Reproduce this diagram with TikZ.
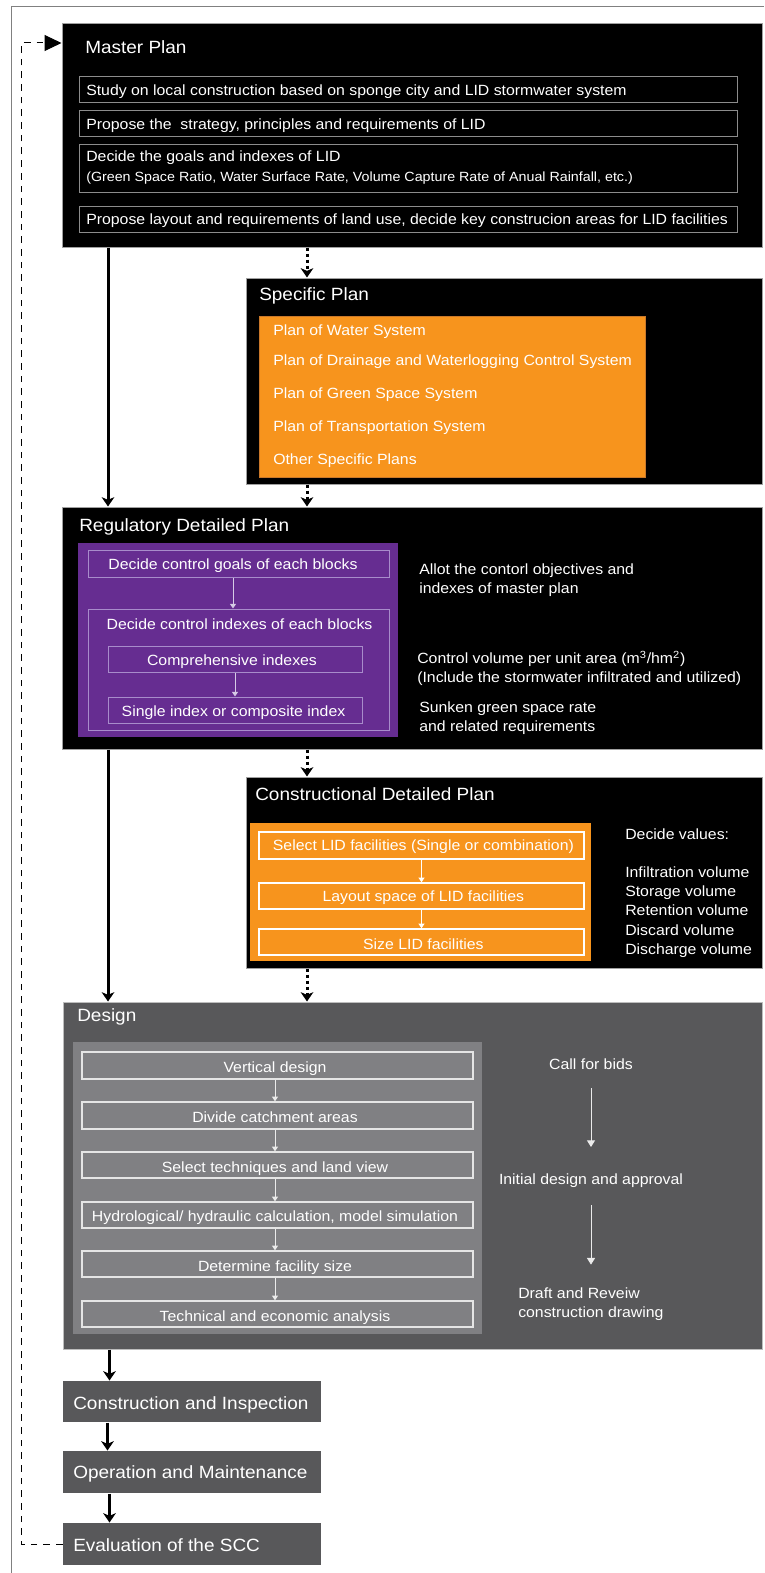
\documentclass[tikz,border=0pt]{standalone}
\usepackage{fontspec}
\setmainfont[FakeStretch=1.07]{Liberation Sans}
\usetikzlibrary{arrows.meta,fit}

\definecolor{frameGray}{HTML}{808080}
\definecolor{edgeGray}{HTML}{A0A0A0}
\definecolor{rowGray}{HTML}{8C8C8C}
\definecolor{lidOrange}{HTML}{F7941D}
\definecolor{orangeEdge}{HTML}{C9782A}
\definecolor{lidPurple}{HTML}{662D91}
\definecolor{lidLav}{HTML}{A88CCB}
\definecolor{lavArrow}{HTML}{D6CBE6}
\definecolor{darkPanel}{HTML}{58585A}
\definecolor{midPanel}{HTML}{808083}
\definecolor{rimGray}{HTML}{BDBDBD}

\tikzset{
  region/.style={fit={#1}, inner sep=0pt, line width=0.75pt},
  stage/.style={region={#1}, fill=black, draw=edgeGray},
  rowbox/.style={region={#1}, draw=rowGray},
  lavbox/.style={region={#1}, draw=lidLav},
  whitebox/.style={region={#1}, draw=white, line width=1.1pt},
  greybox/.style={region={#1}, draw=white!90!black, line width=1.1pt},
  ttl/.style={text=white, font=\fontsize{13.3}{16}\selectfont, inner sep=0pt, anchor=base west},
  txt/.style={text=white, font=\fontsize{11.1}{13}\selectfont, inner sep=0pt, anchor=base west},
  txtc/.style={txt, anchor=base},
  smalltxt/.style={txt, font=\fontsize{10}{12}\selectfont},
  bigtxt/.style={ttl},
  mainflow/.style={line width=2.25pt, -{Stealth[length=7pt,width=9.5pt,inset=2pt]}},
  dotflow/.style={mainflow, dash pattern=on 2.25pt off 2.25pt},
  thinflow/.style={draw=#1, line width=0.75pt, -{Triangle[length=3.5pt,width=4.5pt]}},
  longflow/.style={draw=white!92!black, line width=0.75pt, -{Triangle[length=5pt,width=6pt]}},
  feedback/.style={line width=0.75pt, dash pattern=on 5pt off 4.5pt, -{Triangle[length=12.75pt,width=12pt]}},
}

\begin{document}
\begin{tikzpicture}[x=0.75pt, y=-0.75pt]
\useasboundingbox (0,0) rectangle (764,1573);

% page frame (top and left)
\draw[frameGray, line width=0.75pt] (764,7) -- (11,7) -- (11,1573);

% column guides for the vertical connectors
\coordinate (spineA) at (108,0);
\coordinate (spineB) at (109.5,0);
\coordinate (spineC) at (107.5,0);
\coordinate (dotCol) at (307,0);
\coordinate (purpleCol) at (233,0);
\coordinate (designCol) at (275,0);
\coordinate (fbTop) at (21,43);

% ---------------- Master Plan ----------------
\node[stage={(62,24) (762,247)}] (master) {};
\node[ttl] (masterT) at (85,54) {Master Plan};
\node[rowbox={(79,77) (737,103)}] (mp1) {};
\node[txt] (mp1t) at (86,95.5) {Study on local construction based on sponge city and LID stormwater system};
\node[rowbox={(79,111) (737,137)}] (mp2) {};
\node[txt] (mp2t) at (86,129.5) {Propose the\ \ strategy, principles and requirements of LID};
\node[rowbox={(79,145) (737,192)}] (mp3) {};
\node[txt] (mp3t) at (86,161.7) {Decide the goals and indexes of LID};
\node[smalltxt] (mp3s) at (86,181.5) {(Green Space Ratio, Water Surface Rate, Volume Capture Rate of Anual Rainfall, etc.)};
\node[rowbox={(79,206) (737,232)}] (mp4) {};
\node[txt] (mp4t) at (86,224.3) {Propose layout and requirements of land use, decide key construcion areas for LID facilities};

% ---------------- Specific Plan ----------------
\node[stage={(246,278) (762,484)}] (spec) {};
\node[ttl] (specT) at (259,300) {Specific Plan};
\node[region={(259,316) (645,477)}, fill=lidOrange, draw=orangeEdge] (specList) {};
\node[txt] (sp1) at (273,335.7) {Plan of Water System};
\node[txt] (sp2) at (273,365.7) {Plan of Drainage and Waterlogging Control System};
\node[txt] (sp3) at (273,398.3) {Plan of Green Space System};
\node[txt] (sp4) at (273,431) {Plan of Transportation System};
\node[txt] (sp5) at (273,464) {Other Specific Plans};

% ---------------- Regulatory Detailed Plan ----------------
\node[stage={(62,507) (762,749)}] (reg) {};
\node[ttl] (regT) at (79,531) {Regulatory Detailed Plan};
\node[region={(78,543) (398,737)}, fill=lidPurple] (regPanel) {};
\node[lavbox={(88,550) (389,577)}] (rg1) {};
\node[txtc] (rg1t) at (233,569.5) {Decide control goals of each blocks};
\node[lavbox={(88,609) (389,730)}] (rg2) {};
\node[txtc] (rg2t) at (239.5,629) {Decide control indexes of each blocks};
\node[lavbox={(108,646) (362,672)}] (rg3) {};
\node[txtc] (rg3t) at (232,665) {Comprehensive indexes};
\node[lavbox={(108,697) (362,723)}] (rg4) {};
\node[txtc] (rg4t) at (233.5,716.5) {Single index or composite index};
\draw[thinflow=lavArrow] (rg1.south -| purpleCol) -- (rg2.north -| purpleCol);
\draw[thinflow=lavArrow] (rg3.south) -- (rg4.north);

\node[txt] (rn1) at (419,574) {Allot the contorl objectives and};
\node[txt] (rn2) at (419,593) {indexes of master plan};
\node[txt] (rn3) at (417,663.3) {Control volume per unit area (m\textsuperscript{3}/hm\textsuperscript{2})};
\node[txt] (rn4) at (417,682.7) {(Include the stormwater infiltrated and utilized)};
\node[txt] (rn5) at (419,712.3) {Sunken green space rate};
\node[txt] (rn6) at (419,731.5) {and related requirements};

% ---------------- Constructional Detailed Plan ----------------
\node[stage={(246,777) (762,968)}] (cons) {};
\node[ttl] (consT) at (255,800.7) {Constructional Detailed Plan};
\node[region={(250,823) (591,961)}, fill=lidOrange] (consPanel) {};
\node[whitebox={(259,832) (584,859)}] (cs1) {};
\node[txtc] (cs1t) at (423.4,850.5) {Select LID facilities (Single or combination)};
\node[whitebox={(259,883) (584,909)}] (cs2) {};
\node[txtc] (cs2t) at (423.4,901.5) {Layout space of LID facilities};
\node[whitebox={(259,929) (584,955)}] (cs3) {};
\node[txtc] (cs3t) at (423.4,949.5) {Size LID facilities};
\draw[thinflow=white] (cs1.south) -- (cs2.north);
\draw[thinflow=white] (cs2.south) -- (cs3.north);

\node[txt] (cv0) at (625,839.3) {Decide values:};
\node[txt] (cv1) at (625,877.7) {Infiltration volume};
\node[txt] (cv2) at (625,896.7) {Storage volume};
\node[txt] (cv3) at (625,915.7) {Retention volume};
\node[txt] (cv4) at (625,935) {Discard volume};
\node[txt] (cv5) at (625,954) {Discharge volume};

% ---------------- Design ----------------
\node[region={(63,1002) (762,1349)}, fill=darkPanel, draw=rimGray] (design) {};
\node[ttl] (designT) at (77,1021) {Design};
\node[region={(73,1042) (482,1334)}, fill=midPanel] (designPanel) {};
\node[greybox={(82,1052) (473,1079)}] (ds1) {};
\node[txtc] (ds1t) at (275,1072.5) {Vertical design};
\node[greybox={(82,1102) (473,1129)}] (ds2) {};
\node[txtc] (ds2t) at (275,1122.5) {Divide catchment areas};
\node[greybox={(82,1152) (473,1178)}] (ds3) {};
\node[txtc] (ds3t) at (275,1172.3) {Select techniques and land view};
\node[greybox={(82,1202) (473,1228)}] (ds4) {};
\node[txtc] (ds4t) at (275,1221.5) {Hydrological/ hydraulic calculation, model simulation};
\node[greybox={(82,1251) (473,1277)}] (ds5) {};
\node[txtc] (ds5t) at (275,1271.5) {Determine facility size};
\node[greybox={(82,1301) (473,1327)}] (ds6) {};
\node[txtc] (ds6t) at (275,1321) {Technical and economic analysis};
\foreach \a/\b in {ds1/ds2, ds2/ds3, ds3/ds4, ds4/ds5, ds5/ds6}
  \draw[thinflow=white!92!black] (\a.south -| designCol) -- (\b.north -| designCol);

\node[txtc] (bids) at (591,1069) {Call for bids};
\node[txtc] (approval) at (591,1184) {Initial design and approval};
\node[txt] (draft) at (518,1298.3) {Draft and Reveiw};
\node[txt] (draftB) at (518,1317) {construction drawing};
\draw[longflow, shorten <=14pt, shorten >=19.5pt] (bids.south) -- (approval.north);
\draw[longflow, shorten <=13.5pt, shorten >=17pt] (approval.south) -- (approval.south |- draft.north);

% ---------------- Later stages ----------------
\node[region={(63,1381) (321,1422)}, fill=darkPanel] (build) {};
\node[bigtxt] (buildT) at (73,1409) {Construction and Inspection};
\node[region={(63,1451) (321,1493)}, fill=darkPanel] (operate) {};
\node[bigtxt] (operateT) at (73,1478.3) {Operation and Maintenance};
\node[region={(63,1523) (321,1565)}, fill=darkPanel] (evaluate) {};
\node[bigtxt] (evaluateT) at (73,1551.7) {Evaluation of the SCC};

% ---------------- Flow connectors ----------------
\draw[mainflow] (master.south -| spineA) -- (reg.north -| spineA);
\draw[mainflow] (reg.south -| spineA) -- (design.north -| spineA);
\draw[mainflow] (design.south -| spineB) -- (build.north -| spineB);
\draw[mainflow] (build.south -| spineC) -- (operate.north -| spineC);
\draw[mainflow] (operate.south -| spineB) -- (evaluate.north -| spineB);

\draw[dotflow] (master.south -| dotCol) -- (spec.north -| dotCol);
\draw[dotflow] (spec.south -| dotCol) -- (reg.north -| dotCol);
\draw[dotflow] (reg.south -| dotCol) -- (cons.north -| dotCol);
\draw[dotflow] (cons.south -| dotCol) -- (design.north -| dotCol);

% evaluation feeds back into the master plan
\draw[feedback] (evaluate.west) -| (fbTop) -- (fbTop -| master.west);

\end{tikzpicture}
\end{document}
